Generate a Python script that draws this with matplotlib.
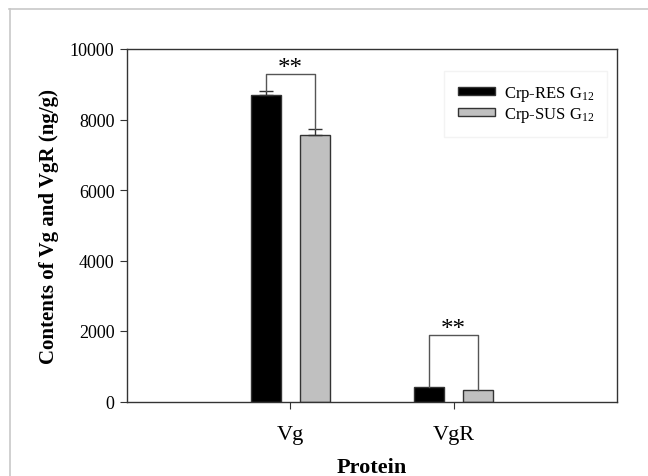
import matplotlib
matplotlib.use('Agg')
import matplotlib.pyplot as plt
from matplotlib.lines import Line2D
import numpy as np

plt.rcParams['font.family'] = ['Liberation Serif', 'DejaVu Serif']
plt.rcParams['mathtext.fontset'] = 'custom'
plt.rcParams['mathtext.rm'] = 'Liberation Serif'

proteins = ['Vg', 'VgR']
res_values = [8700, 420]
sus_values = [7570, 330]
res_err = [110, 0]
sus_err = [160, 0]
bracket_heights = [9300, 1900]
sig_labels = ['**', '**']

fig = plt.figure(figsize=(6.48, 4.77), dpi=100)
ax = fig.add_axes([127 / 648, 1 - 402.5 / 477, 490 / 648, 352.5 / 477])

x = np.arange(1, len(proteins) + 1)
w = 0.18
off = 0.15
ax.bar(x - off, res_values, w, color='black', edgecolor='#333333', linewidth=1,
       label='Crp-RES G$\\mathregular{_{12}}$')
ax.bar(x + off, sus_values, w, color='#c0c0c0', edgecolor='#333333', linewidth=1,
       label='Crp-SUS G$\\mathregular{_{12}}$')

# error bars (only upper)
for xs, vals, errs in [(x - off, res_values, res_err), (x + off, sus_values, sus_err)]:
    for xi, v, e in zip(xs, vals, errs):
        if e > 0:
            ax.errorbar(xi, v, yerr=[[0], [e]], fmt='none', ecolor='#333333',
                        elinewidth=1, capsize=5, capthick=1)

# significance brackets
for i in range(len(proteins)):
    x0 = x[i] - off
    x1 = x[i] + off
    y0 = res_values[i] + res_err[i]
    y1 = sus_values[i] + sus_err[i]
    h = bracket_heights[i]
    ax.plot([x0, x0, x1, x1], [y0, h, h, y1], color='#555555', linewidth=1)
    ax.text(x[i], h - 20, sig_labels[i], ha='center', va='baseline', fontsize=18)

ax.set_xlim(0, 3)
ax.set_ylim(0, 10000)
ax.set_xticks(x)
ax.set_xticklabels(proteins, fontsize=16)
ax.set_yticks(np.arange(0, 10001, 2000))
ax.tick_params(axis='y', labelsize=13, direction='out', length=5, color='#333333', pad=4)
ax.tick_params(axis='x', direction='out', length=5, color='#333333', pad=12)
for s in ax.spines.values():
    s.set_color('#333333')
    s.set_linewidth(1)

ax.set_xlabel('Protein', fontsize=16, fontweight='bold', labelpad=9)
ax.set_ylabel('Contents of Vg and VgR (ng/g)', fontsize=15, fontweight='bold', labelpad=8)

leg = ax.legend(loc='upper right', bbox_to_anchor=(0.997, 0.962), fontsize=12,
                frameon=True, fancybox=False, edgecolor='#f0f0f0',
                handlelength=2.25, handleheight=0.35, labelspacing=0.1,
                borderpad=0.8, handletextpad=0.5)

# light border lines of the original image
fig.add_artist(Line2D([9 / 648, 1], [1 - 10 / 477, 1 - 10 / 477], color='#c8c8c8', linewidth=1.2))
fig.add_artist(Line2D([10 / 648, 10 / 648], [0, 1 - 10 / 477], color='#c8c8c8', linewidth=1.2))

fig.savefig('out.png', dpi=100)
